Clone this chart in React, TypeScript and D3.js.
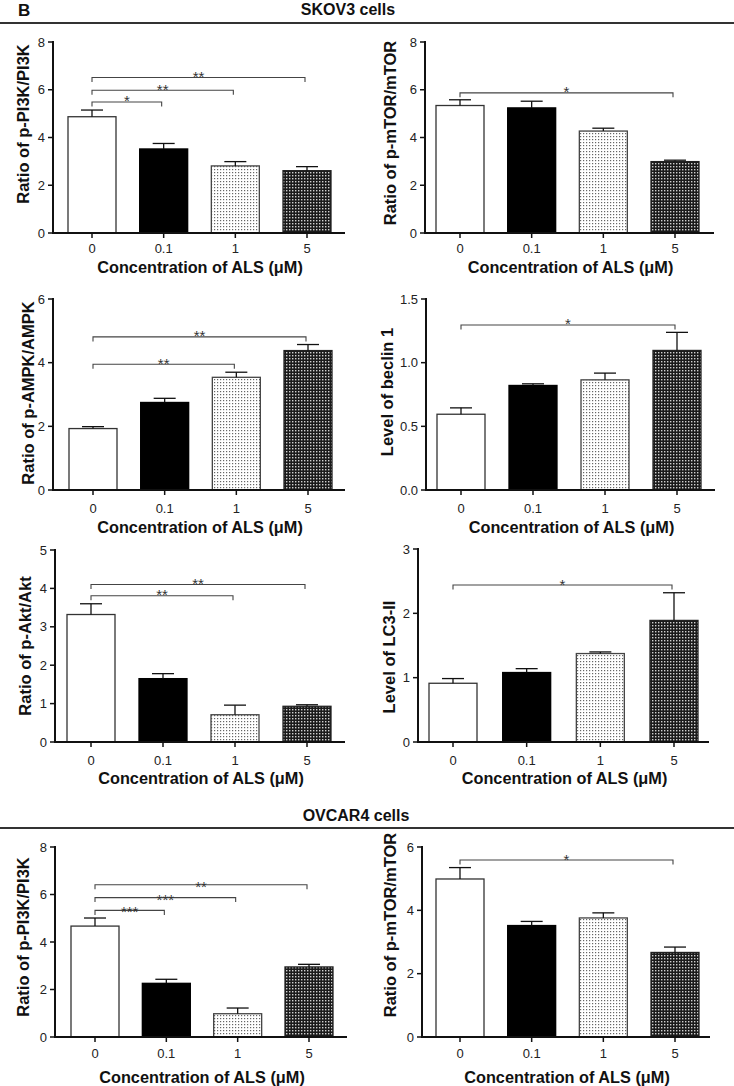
import React from "react";
import * as d3 from "d3";

// ---------- data ----------
const categories = ["0", "0.1", "1", "5"];

const skovPI3K = [4.87, 3.52, 2.81, 2.61];
const skovPI3KErr = [0.28, 0.23, 0.18, 0.17];
const skovMTOR = [5.34, 5.24, 4.27, 2.99];
const skovMTORErr = [0.24, 0.28, 0.12, 0.06];
const skovAMPK = [1.93, 2.75, 3.54, 4.38];
const skovAMPKErr = [0.06, 0.13, 0.16, 0.19];
const skovBeclin = [0.595, 0.821, 0.865, 1.096];
const skovBeclinErr = [0.05, 0.013, 0.053, 0.142];
const skovAkt = [3.32, 1.65, 0.71, 0.93];
const skovAktErr = [0.28, 0.13, 0.25, 0.04];
const skovLC3 = [0.913, 1.08, 1.375, 1.89];
const skovLC3Err = [0.073, 0.06, 0.025, 0.43];
const ovPI3K = [4.67, 2.26, 0.98, 2.95];
const ovPI3KErr = [0.34, 0.17, 0.24, 0.11];
const ovMTOR = [4.99, 3.52, 3.76, 2.67];
const ovMTORErr = [0.36, 0.13, 0.16, 0.17];

const ticks8 = [0, 2, 4, 6, 8];
const ticks6 = [0, 2, 4, 6];
const ticks5 = [0, 1, 2, 3, 4, 5];
const ticks3 = [0, 1, 2, 3];
const ticksBeclin = [0, 0.5, 1.0, 1.5];

const sigSkovPI3K = [
  { to: 1, y: 5.49, label: "*" },
  { to: 2, y: 5.98, label: "**" },
  { to: 3, y: 6.51, label: "**" },
];
const sigSkovMTOR = [{ to: 3, y: 5.87, label: "*" }];
const sigSkovAMPK = [
  { to: 2, y: 3.95, label: "**" },
  { to: 3, y: 4.81, label: "**" },
];
const sigSkovBeclin = [{ to: 3, y: 1.296, label: "*" }];
const sigSkovAkt = [
  { to: 2, y: 3.81, label: "**" },
  { to: 3, y: 4.1, label: "**" },
];
const sigSkovLC3 = [{ to: 3, y: 2.44, label: "*" }];
const sigOvPI3K = [
  { to: 1, y: 5.33, label: "***" },
  { to: 2, y: 5.87, label: "***" },
  { to: 3, y: 6.41, label: "**" },
];
const sigOvMTOR = [{ to: 3, y: 5.59, label: "*" }];

const xTitle = "Concentration of ALS (\u03bcM)";

// ---------- panels ----------
type Sig = { to: number; y: number; label: string };
type PanelSpec = {
  values: number[];
  errs: number[];
  ticks: number[];
  fmt: (v: number) => string;
  sig: Sig[];
  yLabel: string;
  ax: number; c0: number; c3: number; xEnd: number;
  yTop: number; y0: number; tickY: number; titleY: number;
  ytx: number; ytc: number; starOff: number;
};

const intFmt = (v: number) => String(v);
const oneFmt = d3.format(".1f");

const panels: PanelSpec[] = [
  { values: skovPI3K, errs: skovPI3KErr, ticks: ticks8, fmt: intFmt, sig: sigSkovPI3K, yLabel: "Ratio of p-PI3K/PI3K",
    ax: 53, c0: 92, c3: 307, xEnd: 345, yTop: 42, y0: 233, tickY: 248, titleY: 267, ytx: 23, ytc: 124, starOff: 4.5 },
  { values: skovMTOR, errs: skovMTORErr, ticks: ticks8, fmt: intFmt, sig: sigSkovMTOR, yLabel: "Ratio of p-mTOR/mTOR",
    ax: 425, c0: 460, c3: 675, xEnd: 714, yTop: 42, y0: 233, tickY: 248, titleY: 267, ytx: 390, ytc: 133, starOff: 4.5 },
  { values: skovAMPK, errs: skovAMPKErr, ticks: ticks6, fmt: intFmt, sig: sigSkovAMPK, yLabel: "Ratio of p-AMPK/AMPK",
    ax: 53, c0: 93, c3: 308, xEnd: 345, yTop: 299, y0: 490, tickY: 508, titleY: 527, ytx: 28, ytc: 393, starOff: 4.5 },
  { values: skovBeclin, errs: skovBeclinErr, ticks: ticksBeclin, fmt: oneFmt, sig: sigSkovBeclin, yLabel: "Level of beclin 1",
    ax: 426, c0: 461, c3: 677, xEnd: 715, yTop: 299, y0: 490, tickY: 508, titleY: 527, ytx: 387, ytc: 392, starOff: 4.5 },
  { values: skovAkt, errs: skovAktErr, ticks: ticks5, fmt: intFmt, sig: sigSkovAkt, yLabel: "Ratio of p-Akt/Akt",
    ax: 55, c0: 91, c3: 307, xEnd: 345, yTop: 550, y0: 742, tickY: 760, titleY: 778, ytx: 25, ytc: 646, starOff: 4.5 },
  { values: skovLC3, errs: skovLC3Err, ticks: ticks3, fmt: intFmt, sig: sigSkovLC3, yLabel: "Level of LC3-II",
    ax: 418, c0: 453, c3: 674, xEnd: 709, yTop: 549, y0: 742, tickY: 760, titleY: 778, ytx: 389, ytc: 657, starOff: 4.5 },
  { values: ovPI3K, errs: ovPI3KErr, ticks: ticks8, fmt: intFmt, sig: sigOvPI3K, yLabel: "Ratio of p-PI3K/PI3K",
    ax: 55, c0: 95, c3: 309, xEnd: 347, yTop: 847, y0: 1037, tickY: 1053, titleY: 1077, ytx: 23, ytc: 937, starOff: 7 },
  { values: ovMTOR, errs: ovMTORErr, ticks: ticks6, fmt: intFmt, sig: sigOvMTOR, yLabel: "Ratio of p-mTOR/mTOR",
    ax: 422, c0: 460, c3: 675, xEnd: 710, yTop: 847, y0: 1037, tickY: 1053, titleY: 1077, ytx: 390, ytc: 925, starOff: 5 },
];

const FONT = "'Liberation Sans', Arial, Helvetica, sans-serif";
const fills = ["#ffffff", "#000000", "url(#patLight)", "url(#patDark)"];
const strokes = ["#333333", "#000000", "#444444", "#222222"];
const BAR_W = 48;

function Panel({ p }: { p: PanelSpec }) {
  const yMax = p.ticks[p.ticks.length - 1];
  const y = d3.scaleLinear().domain([0, yMax]).range([p.y0, p.yTop]);
  const x = d3.scalePoint<string>().domain(categories).range([p.c0, p.c3]);
  return (
    <g>
      {categories.map((c, i) => {
        const cx = x(c) as number;
        const top = y(p.values[i]);
        return (
          <rect key={"b" + i} x={cx - BAR_W / 2} y={top} width={BAR_W} height={p.y0 - top}
            fill={fills[i]} stroke={strokes[i]} strokeWidth={1.3} />
        );
      })}
      {categories.map((c, i) => {
        const cx = x(c) as number;
        const top = y(p.values[i]);
        const et = y(p.values[i] + p.errs[i]);
        return (
          <g key={"e" + i} stroke="#111" strokeWidth={1.3}>
            <line x1={cx} x2={cx} y1={top} y2={et} />
            <line x1={cx - 11} x2={cx + 11} y1={et} y2={et} />
          </g>
        );
      })}
      {p.sig.map((s, k) => {
        const xa = x(categories[0]) as number;
        const xb = (x(categories[s.to]) as number) - 2;
        const yy = y(s.y);
        return (
          <g key={"s" + k}>
            <path d={`M${xa},${yy + 4.5}V${yy}H${xb}V${yy + 4.5}`} fill="none" stroke="#444" strokeWidth={1.1} />
            <text x={(xa + xb) / 2} y={yy + p.starOff} textAnchor="middle" fontSize={15} fill="#333" fontFamily={FONT}>
              {s.label}
            </text>
          </g>
        );
      })}
      <line x1={p.ax} x2={p.ax} y1={p.yTop - 1} y2={p.y0} stroke="#111" strokeWidth={2} />
      <line x1={p.ax - 1} x2={p.xEnd} y1={p.y0} y2={p.y0} stroke="#111" strokeWidth={2} />
      {p.ticks.map((t) => (
        <g key={"yt" + t}>
          <line x1={p.ax - 5} x2={p.ax} y1={y(t)} y2={y(t)} stroke="#111" strokeWidth={1.5} />
          <text x={p.ax - 8} y={y(t)} textAnchor="end" dominantBaseline="central" fontSize={13} fill="#222" fontFamily={FONT}>
            {p.fmt(t)}
          </text>
        </g>
      ))}
      {categories.map((c) => (
        <g key={"xt" + c}>
          <line x1={x(c) as number} x2={x(c) as number} y1={p.y0} y2={p.y0 + 5} stroke="#111" strokeWidth={1.5} />
          <text x={x(c) as number} y={p.tickY} textAnchor="middle" dominantBaseline="central" fontSize={13} fill="#222" fontFamily={FONT}>
            {c}
          </text>
        </g>
      ))}
      <text x={(p.ax + p.xEnd) / 2 + 1} y={p.titleY} textAnchor="middle" dominantBaseline="central" fontSize={16.3}
        fontWeight="bold" fill="#111" fontFamily={FONT}>
        {xTitle}
      </text>
      <text transform={`translate(${p.ytx},${p.ytc}) rotate(-90)`} textAnchor="middle" dominantBaseline="central"
        fontSize={16.5} fontWeight="bold" fill="#111" fontFamily={FONT}>
        {p.yLabel}
      </text>
    </g>
  );
}

export default function App() {
  return (
    <div style={{ position: "absolute", left: 0, top: 0 }}>
      <svg width={734} height={1086} style={{ display: "block", background: "#fff" }}>
        <defs>
          <pattern id="patLight" patternUnits="userSpaceOnUse" width={3} height={3}>
            <rect width={3} height={3} fill="#ffffff" />
            <rect x={1} y={1} width={1.2} height={1.2} fill="#666" />
          </pattern>
          <pattern id="patDark" patternUnits="userSpaceOnUse" width={3} height={3}>
            <rect width={3} height={3} fill="#1a1a1a" />
            <rect x={1} y={1} width={1.4} height={1.4} fill="#cfcfcf" />
          </pattern>
        </defs>
        <text x={18} y={16} fontSize={17} fontWeight="bold" fill="#111" fontFamily={FONT}>B</text>
        <text x={348} y={15} textAnchor="middle" fontSize={16} fontWeight="bold" fill="#111" fontFamily={FONT}>SKOV3 cells</text>
        <line x1={0} x2={734} y1={23} y2={23} stroke="#333" strokeWidth={1.8} />
        <text x={356} y={821} textAnchor="middle" fontSize={16} fontWeight="bold" fill="#111" fontFamily={FONT}>OVCAR4 cells</text>
        <line x1={0} x2={734} y1={828} y2={828} stroke="#333" strokeWidth={1.8} />
        {panels.map((p, i) => (
          <Panel key={i} p={p} />
        ))}
      </svg>
    </div>
  );
}
